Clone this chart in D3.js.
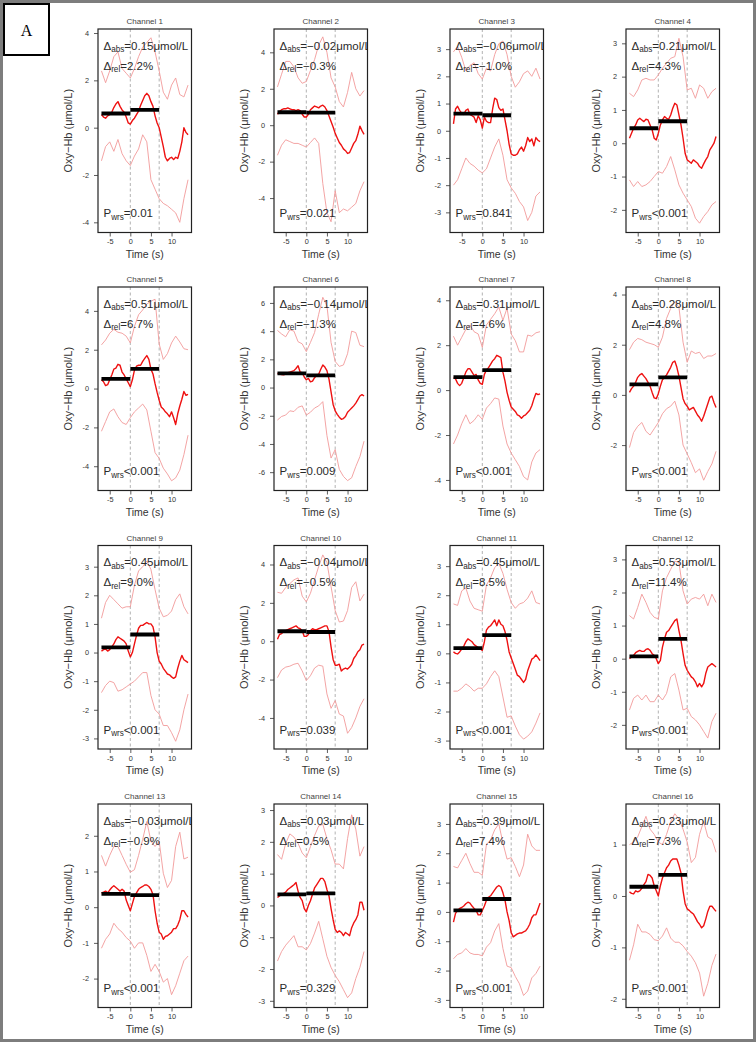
<!DOCTYPE html>
<html><head><meta charset="utf-8">
<script src="https://cdn.jsdelivr.net/npm/d3@7"></script>
<style>
html,body{margin:0;padding:0;background:#fff;}
svg{display:block;}
</style></head><body>
<svg id="chart" width="756" height="1042"></svg>
<script>
// ---------------- DATA ----------------
const channels = ["Channel 1","Channel 2","Channel 3","Channel 4","Channel 5","Channel 6","Channel 7","Channel 8",
  "Channel 9","Channel 10","Channel 11","Channel 12","Channel 13","Channel 14","Channel 15","Channel 16"];
const tMean = d3.range(0, 43).map(k => -7 + k * 0.5);   // time grid for mean curves (s)
const tBound = d3.range(0, 22).map(k => -7 + k);        // time grid for bound curves (s)
const xTicks = [-5, 0, 5, 10];
const markerTimes = [0, 7];

const mean1 = [0.55,0.45,0.4,0.5,0.55,0.65,0.85,1.0,1.1,0.9,0.75,0.65,0.45,0.2,0.15,0.3,0.4,0.55,0.7,0.95,1.15,1.35,1.45,1.35,1.1,0.9,0.5,0.2,0.0,-0.4,-0.8,-1.25,-1.4,-1.3,-1.25,-1.35,-1.25,-1.3,-1.0,-0.6,0.0,-0.2,-0.3];
const mean2 = [0.6,0.75,0.85,0.9,0.9,0.95,0.9,0.85,0.85,0.8,0.85,0.8,0.6,0.45,0.45,0.6,0.85,0.95,1.05,1.0,0.95,1.05,1.1,1.0,0.8,0.5,0.2,-0.1,-0.45,-0.7,-0.95,-1.1,-1.3,-1.4,-1.55,-1.5,-1.25,-1.0,-0.85,-0.5,-0.05,-0.3,-0.5];
const mean3 = [0.25,0.8,0.9,0.75,0.65,0.6,0.75,0.8,0.6,0.55,0.5,0.3,0.55,0.4,0.1,0.5,0.35,0.3,0.3,0.8,1.2,1.15,0.85,0.75,0.8,0.4,0.0,-0.5,-0.85,-0.9,-0.9,-0.85,-0.7,-0.6,-0.75,-0.55,-0.25,-0.4,-0.3,-0.55,-0.25,-0.35,-0.4];
const mean4 = [0.15,0.3,0.45,0.55,0.7,0.75,0.7,0.65,0.72,0.7,0.55,0.4,0.15,0.1,0.3,0.55,0.7,0.8,0.75,0.72,0.85,1.05,1.2,1.15,0.85,0.55,0.15,-0.3,-0.5,-0.55,-0.6,-0.5,-0.55,-0.6,-0.7,-0.75,-0.62,-0.5,-0.4,-0.2,-0.1,0.0,0.2];
const mean5 = [0.45,0.35,0.15,0.2,0.45,0.7,1.0,1.05,1.25,1.2,0.85,0.7,0.5,0.3,0.1,0.45,0.95,1.15,1.2,1.2,1.4,1.55,1.7,1.5,1.0,0.75,0.25,-0.2,-0.6,-0.95,-1.05,-1.2,-1.3,-1.45,-1.2,-1.5,-1.85,-1.3,-0.9,-0.55,-0.15,-0.35,-0.3];
const mean6 = [1.0,0.95,0.92,0.9,0.95,1.05,1.1,1.15,1.2,1.35,1.55,1.1,1.05,0.75,0.55,0.65,0.4,0.45,0.7,0.85,0.95,1.3,1.6,1.45,1.2,0.6,-0.3,-1.2,-1.65,-1.9,-2.1,-2.25,-2.2,-2.05,-1.75,-1.6,-1.45,-1.3,-1.1,-0.85,-0.6,-0.5,-0.6];
const mean7 = [0.55,0.5,0.3,0.2,0.3,0.55,0.8,0.95,0.95,0.8,0.65,0.7,0.45,0.3,0.25,0.7,0.9,1.0,1.15,1.3,1.4,1.55,1.5,1.45,0.8,0.4,-0.1,-0.45,-0.75,-0.85,-0.95,-1.1,-1.15,-1.25,-1.15,-1.1,-1.0,-0.9,-0.7,-0.4,-0.15,-0.2,-0.17];
const mean8 = [0.1,0.25,0.35,0.5,0.7,0.8,0.85,0.75,0.65,0.5,0.35,0.1,-0.12,-0.15,0.05,0.35,0.6,0.7,0.8,0.95,1.1,1.3,1.35,1.1,0.75,0.3,-0.15,-0.35,-0.45,-0.6,-0.55,-0.5,-0.65,-0.8,-0.9,-1.05,-0.85,-0.6,-0.35,-0.1,-0.05,-0.3,-0.5];
const mean9 = [0.05,0.1,0.12,0.05,0.1,0.2,0.3,0.45,0.55,0.5,0.45,0.4,0.3,0.05,-0.15,0.0,0.3,0.6,0.85,0.95,0.95,1.0,1.05,1.0,1.0,0.9,0.55,0.0,-0.3,-0.4,-0.55,-0.65,-0.75,-0.78,-0.85,-0.9,-0.85,-0.55,-0.3,-0.1,-0.25,-0.3,-0.35];
const mean10 = [0.1,0.35,0.4,0.5,0.55,0.6,0.65,0.7,0.75,0.8,0.7,0.65,0.55,0.25,0.25,0.35,0.55,0.65,0.6,0.6,0.65,0.7,0.75,0.8,0.8,0.5,-0.3,-0.95,-1.25,-1.25,-1.2,-1.55,-1.45,-1.4,-1.45,-1.35,-1.2,-0.9,-0.75,-0.55,-0.45,-0.2,-0.15];
const mean11 = [0.05,0.0,-0.02,0.05,0.15,0.25,0.4,0.5,0.45,0.4,0.3,0.25,0.2,0.15,0.1,0.4,0.8,0.9,0.95,1.05,1.15,0.95,1.15,1.0,0.95,0.75,0.45,0.05,-0.15,-0.35,-0.55,-0.75,-0.8,-0.9,-1.0,-0.9,-0.6,-0.4,-0.2,-0.15,-0.05,-0.15,-0.25];
const mean12 = [0.0,0.05,0.1,0.18,0.22,0.25,0.22,0.22,0.28,0.3,0.25,0.15,0.1,0.0,-0.15,-0.05,0.35,0.6,0.8,0.85,0.95,1.05,1.15,1.2,0.85,0.55,0.15,-0.2,-0.35,-0.45,-0.55,-0.6,-0.7,-0.85,-0.75,-0.85,-0.75,-0.45,-0.25,-0.2,-0.15,-0.2,-0.25];
const mean13 = [0.4,0.42,0.45,0.4,0.48,0.55,0.6,0.55,0.5,0.45,0.5,0.45,0.2,0.05,-0.1,0.1,0.3,0.4,0.5,0.55,0.58,0.62,0.62,0.58,0.5,0.35,-0.1,-0.45,-0.7,-0.75,-0.9,-0.82,-0.8,-0.75,-0.7,-0.6,-0.6,-0.5,-0.35,-0.1,-0.1,-0.2,-0.28];
const mean14 = [0.25,0.3,0.35,0.38,0.42,0.5,0.55,0.6,0.65,0.72,0.45,0.25,0.15,-0.1,-0.2,0.0,0.15,0.35,0.55,0.65,0.75,0.85,0.85,0.75,0.5,0.3,-0.1,-0.45,-0.75,-0.85,-0.8,-0.85,-0.95,-0.85,-0.9,-0.95,-0.7,-0.55,-0.45,-0.3,0.1,0.1,-0.15];
const mean15 = [-0.35,-0.05,0.05,0.12,0.15,0.2,0.28,0.33,0.3,0.2,0.12,0.05,-0.1,-0.1,0.05,0.2,0.4,0.5,0.55,0.65,0.75,0.85,0.9,0.85,0.65,0.4,0.0,-0.3,-0.7,-0.85,-0.8,-0.75,-0.72,-0.72,-0.68,-0.65,-0.55,-0.42,-0.2,-0.1,-0.1,0.1,0.3];
const mean16 = [0.08,0.05,0.04,0.1,0.08,0.1,0.15,0.22,0.28,0.42,0.4,0.35,0.2,0.1,0.0,0.2,0.35,0.45,0.55,0.6,0.68,0.72,0.72,0.72,0.6,0.45,0.1,-0.15,-0.25,-0.28,-0.32,-0.35,-0.42,-0.5,-0.55,-0.62,-0.58,-0.45,-0.3,-0.2,-0.2,-0.25,-0.3];

const upper1 = [2.4,1.9,2.4,3.0,3.2,2.5,2.3,2.1,2.5,3.0,3.4,3.6,3.8,3.2,2.4,1.5,1.2,1.8,2.1,1.4,1.3,1.8];
const lower1 = [-1.4,-0.8,-0.6,-1.0,-0.5,-1.1,-1.4,-1.6,-1.2,-0.9,-0.3,-0.6,-2.2,-2.6,-3.0,-3.2,-3.3,-3.45,-3.6,-4.0,-3.0,-2.2];
const upper2 = [2.1,2.8,3.5,3.5,3.2,2.6,2.3,2.4,3.0,3.6,4.4,4.85,4.0,2.6,2.1,1.3,1.0,1.8,2.9,2.0,1.6,1.9];
const lower2 = [-1.65,-1.1,-0.8,-0.9,-1.0,-1.0,-1.1,-1.2,-0.95,-0.7,-1.0,-3.2,-4.8,-5.3,-3.6,-4.8,-4.6,-4.7,-4.5,-4.3,-3.6,-3.1];
const upper3 = [2.9,3.1,2.7,2.2,2.4,2.5,2.1,1.9,2.3,2.2,2.8,3.2,3.3,2.8,2.0,1.6,1.8,2.1,2.2,2.0,2.3,1.9];
const lower3 = [-2.0,-1.8,-1.4,-1.0,-1.2,-1.3,-1.45,-1.55,-1.4,-1.0,-0.6,-0.3,-0.9,-1.8,-2.1,-2.3,-2.6,-2.8,-3.3,-3.0,-2.4,-2.25];
const upper4 = [1.5,1.4,1.6,1.9,1.95,1.9,1.9,2.05,2.25,2.4,2.55,2.6,3.15,2.6,1.6,1.65,1.35,1.75,1.65,1.35,1.55,1.65];
const lower4 = [-1.1,-1.3,-1.15,-1.3,-1.25,-1.15,-1.0,-0.85,-0.9,-0.7,-0.4,-0.8,-1.25,-1.5,-1.7,-1.9,-2.25,-2.4,-2.2,-2.05,-1.85,-1.75];
const upper5 = [2.25,2.5,2.85,3.05,2.9,2.85,2.7,2.35,3.2,3.8,4.05,4.35,4.5,4.6,2.3,1.5,1.8,2.35,2.7,2.4,2.05,2.0];
const lower5 = [-2.2,-1.7,-1.2,-1.05,-1.45,-1.75,-1.85,-1.5,-1.2,-1.0,-0.8,-1.1,-2.2,-3.3,-3.6,-4.1,-4.4,-4.75,-4.6,-4.2,-3.4,-2.4];
const upper6 = [4.05,3.8,3.6,4.1,4.0,3.25,3.1,2.55,3.2,3.9,5.2,6.4,5.8,3.2,1.85,1.5,1.6,2.4,4.0,3.9,3.0,2.9];
const lower6 = [-2.3,-2.05,-1.95,-1.65,-1.7,-1.4,-1.3,-1.95,-1.75,-1.45,-1.3,-1.0,-3.4,-5.0,-4.4,-5.8,-6.3,-6.6,-6.4,-5.6,-4.9,-3.8];
const upper7 = [2.4,2.0,2.35,2.7,2.9,2.6,2.5,1.9,2.9,3.15,3.4,3.7,3.1,3.65,2.5,2.2,1.7,1.7,2.45,2.4,2.55,2.6];
const lower7 = [-2.4,-2.0,-1.5,-1.1,-1.5,-1.35,-1.1,-1.3,-0.8,-0.6,-0.35,-0.4,-1.6,-2.4,-2.8,-3.1,-3.4,-3.85,-4.0,-3.2,-2.8,-2.65];
const upper8 = [1.8,2.1,2.25,2.2,2.1,2.05,2.0,1.9,2.3,3.05,3.45,3.7,3.5,2.1,1.3,1.75,1.65,1.7,1.45,1.55,1.55,1.65];
const lower8 = [-2.1,-1.5,-1.25,-1.1,-1.45,-1.6,-1.35,-1.1,-0.75,-0.55,-0.45,-0.25,-0.8,-2.0,-2.35,-2.7,-3.1,-2.95,-3.4,-3.05,-2.75,-2.25];
const upper9 = [1.2,1.75,2.0,1.85,1.7,1.55,1.6,1.6,2.35,2.85,3.0,3.2,2.9,2.2,1.55,1.25,1.3,1.45,1.85,2.05,1.6,1.35];
const lower9 = [-1.4,-1.15,-1.0,-1.05,-1.35,-1.3,-1.2,-1.1,-1.0,-0.85,-0.7,-0.7,-1.5,-2.0,-2.15,-2.55,-2.55,-2.8,-3.1,-2.7,-2.0,-1.45];
const upper10 = [2.55,2.5,2.8,3.0,3.2,3.3,2.35,2.05,2.5,3.2,3.9,4.5,4.1,2.85,1.6,1.0,1.05,1.6,2.8,3.1,2.1,2.45];
const lower10 = [-1.9,-1.5,-1.35,-1.3,-1.2,-1.15,-1.55,-2.05,-1.8,-1.4,-1.25,-1.3,-2.75,-3.5,-3.1,-3.8,-3.9,-4.8,-4.5,-4.0,-3.4,-3.0];
const upper11 = [1.7,1.65,2.15,2.25,1.8,1.55,1.5,1.45,2.35,2.6,2.95,3.1,2.75,2.2,1.75,1.55,1.7,1.75,1.9,2.15,1.75,1.7];
const lower11 = [-1.3,-1.3,-1.2,-1.05,-1.15,-1.3,-1.2,-1.2,-1.05,-0.8,-0.6,-0.8,-1.5,-2.2,-2.15,-2.5,-2.8,-2.95,-2.85,-2.7,-2.4,-2.05];
const upper12 = [1.3,1.2,1.55,1.95,1.7,1.4,1.25,1.2,2.05,2.45,2.7,2.95,2.9,2.05,1.65,1.8,1.85,1.8,1.95,1.6,1.95,1.7];
const lower12 = [-1.55,-1.2,-1.1,-1.25,-1.1,-1.3,-1.3,-1.1,-1.25,-1.05,-0.55,-0.45,-0.95,-1.55,-1.5,-1.75,-1.85,-2.0,-2.2,-2.4,-1.9,-1.65];
const upper13 = [1.45,1.15,1.45,1.7,1.7,1.45,1.2,0.98,1.05,1.45,1.9,2.4,1.85,1.7,1.85,0.95,0.55,0.75,1.7,2.1,1.35,1.4];
const lower13 = [-1.15,-0.9,-0.75,-0.45,-0.6,-0.7,-0.85,-0.95,-1.15,-1.0,-1.0,-1.35,-1.8,-1.6,-1.8,-2.1,-2.0,-2.45,-2.2,-1.85,-1.5,-1.37];
const upper14 = [1.6,1.45,1.95,2.25,2.15,1.95,1.65,1.5,1.85,2.2,2.5,2.55,2.1,1.75,1.3,1.3,1.15,2.1,2.85,2.4,1.55,1.85];
const lower14 = [-1.75,-1.45,-1.25,-1.1,-0.95,-1.3,-1.3,-1.4,-1.2,-0.87,-0.5,-1.05,-1.6,-1.95,-2.2,-2.4,-2.65,-2.9,-2.75,-2.3,-1.95,-1.45];
const upper15 = [1.55,1.5,1.75,2.0,1.65,1.35,1.35,1.25,2.3,2.45,2.8,3.0,2.35,1.8,1.85,1.55,1.2,1.6,2.65,2.25,2.1,2.1];
const lower15 = [-1.6,-1.45,-1.4,-1.25,-1.4,-1.45,-1.45,-1.5,-1.2,-1.05,-0.65,-0.4,-1.25,-1.85,-1.9,-2.2,-2.45,-2.85,-2.7,-2.25,-2.1,-1.85];
const upper16 = [1.0,1.05,1.15,1.35,1.55,1.3,1.2,1.05,1.0,1.2,1.45,1.6,1.5,1.3,1.05,0.65,0.75,1.2,1.45,1.15,1.1,0.85];
const lower16 = [-1.25,-0.95,-0.55,-0.7,-0.7,-0.75,-0.85,-0.87,-0.78,-0.62,-0.82,-0.9,-0.9,-0.97,-1.08,-1.17,-1.3,-1.5,-1.95,-1.7,-1.35,-1.13];

const baselineMean = [0.6,0.71,0.63,0.45,0.5,1.0,0.58,0.42,0.18,0.52,0.18,0.07,0.37,0.35,0.05,0.18];
const taskMean     = [0.75,0.69,0.57,0.66,1.01,0.86,0.89,0.70,0.63,0.48,0.63,0.60,0.34,0.38,0.44,0.41];

const deltaAbs = ["0.15","\u22120.02","\u22120.06","0.21","0.51","\u22120.14","0.31","0.28","0.45","\u22120.04","0.45","0.53","\u22120.03","0.03","0.39","0.23"];
const deltaRel = ["2.2","\u22120.3","\u22121.0","4.3","6.7","\u22121.3","4.6","4.8","9.0","\u22120.5","8.5","11.4","\u22120.9","0.5","7.4","7.3"];
const pWrs = ["=0.01","=0.021","=0.841","<0.001","<0.001","=0.009","<0.001","<0.001","<0.001","=0.039","<0.001","<0.001","<0.001","=0.329","<0.001","<0.001"];

const yDomains = [[-4.43,4.17],[-5.89,5.28],[-3.74,3.74],[-2.68,3.43],[-5.25,5.23],[-7.3,7.13],[-4.47,4.59],[-3.81,4.3],
  [-3.37,3.74],[-5.62,4.99],[-3.29,3.71],[-2.73,3.42],[-2.81,2.89],[-3.21,3.19],[-3.26,3.68],[-2.17,1.79]];
const yTicks = [[-4,-2,0,2,4],[-4,-2,0,2,4],[-3,-2,-1,0,1,2,3],[-2,-1,0,1,2,3],[-4,-2,0,2,4],[-6,-4,-2,0,2,4,6],[-4,-2,0,2,4],[-2,0,2,4],
  [-3,-2,-1,0,1,2,3],[-4,-2,0,2,4],[-3,-2,-1,0,1,2,3],[-2,-1,0,1,2,3],[-2,-1,0,1,2],[-3,-2,-1,0,1,2,3],[-3,-2,-1,0,1,2,3],[-2,-1,0,1]];

const means = [mean1,mean2,mean3,mean4,mean5,mean6,mean7,mean8,mean9,mean10,mean11,mean12,mean13,mean14,mean15,mean16];
const uppers = [upper1,upper2,upper3,upper4,upper5,upper6,upper7,upper8,upper9,upper10,upper11,upper12,upper13,upper14,upper15,upper16];
const lowers = [lower1,lower2,lower3,lower4,lower5,lower6,lower7,lower8,lower9,lower10,lower11,lower12,lower13,lower14,lower15,lower16];

// ---------------- LAYOUT ----------------
const FONT = "'Liberation Sans', Arial, Helvetica, sans-serif";
const colLeft = [98, 274, 450, 626];
const rowTop = [29, 287, 545.5, 804];
const W = 93.5, H = 203.5;
const xDomain = [-7.84, 14.84];

const svg = d3.select("#chart");
svg.append("rect").attr("width", 756).attr("height", 1042).attr("fill", "#fff");
const defs = svg.append("defs");

function richText(sel, x, y, main, sub, rest) {
  const t = sel.append("text").attr("x", x).attr("y", y)
    .attr("font-family", FONT).attr("font-size", 11.5).attr("fill", "#2a2a2a");
  t.append("tspan").text(main);
  t.append("tspan").attr("font-size", 8.2).attr("dy", 2.8).text(sub);
  t.append("tspan").attr("dy", -2.8).text(rest);
}

channels.forEach((name, i) => {
  const r = Math.floor(i / 4), c = i % 4;
  const x0 = colLeft[c], y0 = rowTop[r];
  const x = d3.scaleLinear().domain(xDomain).range([x0, x0 + W]);
  const y = d3.scaleLinear().domain(yDomains[i]).range([y0 + H, y0]);
  const g = svg.append("g");

  defs.append("clipPath").attr("id", "clip" + i)
    .append("rect").attr("x", x0).attr("y", y0).attr("width", W).attr("height", H);
  const inner = g.append("g").attr("clip-path", `url(#clip${i})`);

  markerTimes.forEach(v => {
    inner.append("line").attr("x1", x(v)).attr("x2", x(v)).attr("y1", y0).attr("y2", y0 + H)
      .attr("stroke", "#a0a0a0").attr("stroke-width", 0.8).attr("stroke-dasharray", "3,2.5");
  });

  const lineB = d3.line().x((d, j) => x(tBound[j])).y(d => y(d));
  const lineM = d3.line().x((d, j) => x(tMean[j])).y(d => y(d));
  [uppers[i], lowers[i]].forEach(arr => {
    inner.append("path").attr("d", lineB(arr)).attr("fill", "none")
      .attr("stroke", "#f29a9a").attr("stroke-width", 0.9).attr("stroke-linejoin", "round");
  });
  inner.append("path").attr("d", lineM(means[i])).attr("fill", "none")
    .attr("stroke", "#ee1111").attr("stroke-width", 1.4).attr("stroke-linejoin", "round");

  // baseline / task mean bars
  inner.append("line").attr("x1", x(-7)).attr("x2", x(0)).attr("y1", y(baselineMean[i])).attr("y2", y(baselineMean[i]))
    .attr("stroke", "#000").attr("stroke-width", 3.8);
  inner.append("line").attr("x1", x(0)).attr("x2", x(7)).attr("y1", y(taskMean[i])).attr("y2", y(taskMean[i]))
    .attr("stroke", "#000").attr("stroke-width", 3.8);

  // annotations
  richText(inner, x(-7) + 2, y0 + 20.5, "\u0394", "abs", "=" + deltaAbs[i] + "\u03bcmol/L");
  richText(inner, x(-7) + 2, y0 + 40.5, "\u0394", "rel", "=" + deltaRel[i] + "%");
  richText(inner, x(-7) + 2, y0 + H - 15.5, "P", "wrs", pWrs[i]);

  // box
  g.append("rect").attr("x", x0).attr("y", y0).attr("width", W).attr("height", H)
    .attr("fill", "none").attr("stroke", "#222").attr("stroke-width", 1.2);

  // axes
  const gy = g.append("g").attr("transform", `translate(${x0},0)`)
    .call(d3.axisLeft(y).tickValues(yTicks[i]).tickSize(4).tickPadding(5).tickFormat(d => String(d)));
  gy.select(".domain").remove();
  gy.attr("font-size", 7.3).attr("font-family", FONT);
  gy.selectAll("line").attr("stroke", "#333").attr("stroke-width", 0.8);
  gy.selectAll("text").attr("fill", "#333");

  const gx = g.append("g").attr("transform", `translate(0,${y0 + H})`)
    .call(d3.axisBottom(x).tickValues(xTicks).tickSize(4).tickPadding(2.5).tickFormat(d => String(d)));
  gx.select(".domain").remove();
  gx.attr("font-size", 7.3).attr("font-family", FONT);
  gx.selectAll("line").attr("stroke", "#333").attr("stroke-width", 0.8);
  gx.selectAll("text").attr("fill", "#333");

  // labels
  g.append("text").attr("x", x0 + W / 2).attr("y", y0 - 5).attr("text-anchor", "middle")
    .attr("font-family", FONT).attr("font-size", 8).attr("fill", "#444").text(name);
  g.append("text").attr("x", x0 + W / 2).attr("y", y0 + H + 25).attr("text-anchor", "middle")
    .attr("font-family", FONT).attr("font-size", 10.5).attr("fill", "#333").text("Time (s)");
  g.append("text").attr("transform", `translate(${x0 - 30},${y0 + H / 2}) rotate(-90)`)
    .attr("text-anchor", "middle").attr("dy", "0.35em")
    .attr("font-family", FONT).attr("font-size", 11).attr("fill", "#333").text("Oxy\u2212Hb (\u03bcmol/L)");
});

// page frame and panel letter
svg.append("rect").attr("x", 1.5).attr("y", 1.5).attr("width", 753).attr("height", 1039)
  .attr("fill", "none").attr("stroke", "#7d7d7d").attr("stroke-width", 3);
svg.append("rect").attr("x", 4).attr("y", 4).attr("width", 45).attr("height", 51)
  .attr("fill", "#fff").attr("stroke", "#000").attr("stroke-width", 2);
svg.append("text").attr("x", 26.5).attr("y", 36).attr("text-anchor", "middle")
  .attr("font-family", "'Liberation Serif', 'Times New Roman', serif").attr("font-size", 16).attr("fill", "#000").text("A");
</script></body></html>
